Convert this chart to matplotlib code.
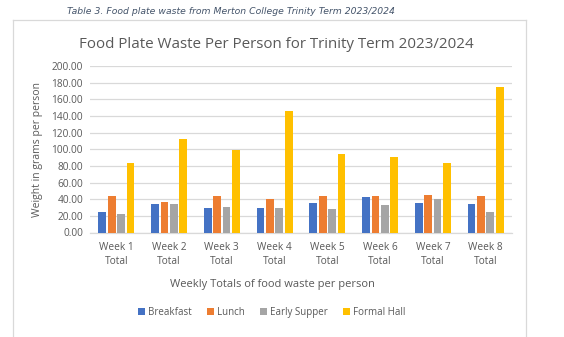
import matplotlib
matplotlib.use("Agg")
import matplotlib.pyplot as plt
import numpy as np
from matplotlib.lines import Line2D

weeks = ["Week 1\nTotal", "Week 2\nTotal", "Week 3\nTotal", "Week 4\nTotal",
         "Week 5\nTotal", "Week 6\nTotal", "Week 7\nTotal", "Week 8\nTotal"]
breakfast = [24.5, 34.5, 30.0, 29.0, 35.3, 42.5, 36.0, 33.7]
lunch = [44.0, 36.5, 44.0, 40.0, 43.4, 43.7, 44.5, 43.7]
early_supper = [22.5, 34.5, 30.5, 29.0, 28.0, 33.3, 40.0, 24.5]
formal_hall = [83.5, 112.0, 98.8, 146.5, 94.3, 91.0, 84.0, 175.0]

series = [("Breakfast", breakfast, "#4472C4"),
          ("Lunch", lunch, "#ED7D31"),
          ("Early Supper", early_supper, "#A5A5A5"),
          ("Formal Hall", formal_hall, "#FFC000")]

W, H = 564, 337
fig = plt.figure(figsize=(W / 100, H / 100), dpi=100)
fig.patch.set_facecolor("white")

font = ["Open Sans", "DejaVu Sans"]
txt = "#595959"

# chart frame
frame_kw = dict(color="#D9D9D9", lw=0.9, transform=fig.transFigure)
fig.add_artist(Line2D([13 / W, 13 / W], [0, 1 - 19.5 / H], **frame_kw))
fig.add_artist(Line2D([13 / W, 526 / W], [1 - 19.5 / H, 1 - 19.5 / H], **frame_kw))
fig.add_artist(Line2D([526 / W, 526 / W], [0, 1 - 19.5 / H], **frame_kw))

fig.text(67 / W, 1 - 11 / H, "Table 3. Food plate waste from Merton College Trinity Term 2023/2024",
         ha="left", va="center", fontsize=6.7, style="italic", color="#44546A",
         family=["DejaVu Sans"])

fig.text(276 / W, 1 - 45 / H, "Food Plate Waste Per Person for Trinity Term 2023/2024",
         ha="center", va="center", fontsize=10.9, color=txt, family=font)

ax = fig.add_axes([90 / W, 1 - 232.5 / H, (512 - 90) / W, (232.5 - 66) / H])
x = np.arange(len(weeks))
bw = 0.146
step = 0.178
for i, (name, vals, col) in enumerate(series):
    ax.bar(x + (i - 1.5) * step, vals, width=bw, color=col, label=name, zorder=3)

ax.set_xlim(-0.5, len(weeks) - 0.5)
ax.set_ylim(0, 200)
ax.set_yticks(np.arange(0, 201, 20))
ax.set_yticklabels([f"{v:.2f}" for v in np.arange(0, 201, 20)])
ax.set_xticks(x)
ax.set_xticklabels(weeks, linespacing=1.3)
ax.grid(axis="y", color="#D9D9D9", lw=0.9, zorder=0)
for s in ["top", "right", "left"]:
    ax.spines[s].set_visible(False)
ax.spines["bottom"].set_color("#D9D9D9")
ax.spines["bottom"].set_linewidth(0.9)
ax.tick_params(length=0, labelsize=7.3, labelcolor=txt, pad=5)
ax.tick_params(axis="x", pad=7)
for lab in ax.get_xticklabels() + ax.get_yticklabels():
    lab.set_family(font)

ax.set_ylabel("Weight in grams per person", fontsize=7.5, color=txt, family=font, labelpad=6)
fig.text(272 / W, 1 - 284 / H, "Weekly Totals of food waste per person",
         ha="center", va="center", fontsize=8, color=txt, family=font)

fig.legend(loc="center", bbox_to_anchor=(272 / W, 1 - 312.5 / H), ncol=4, frameon=False,
           prop={"family": font, "size": 7}, labelcolor=txt, handlelength=0.7,
           handleheight=0.7, columnspacing=1.6, handletextpad=0.3)

fig.savefig("out.png", dpi=100, facecolor="white")
